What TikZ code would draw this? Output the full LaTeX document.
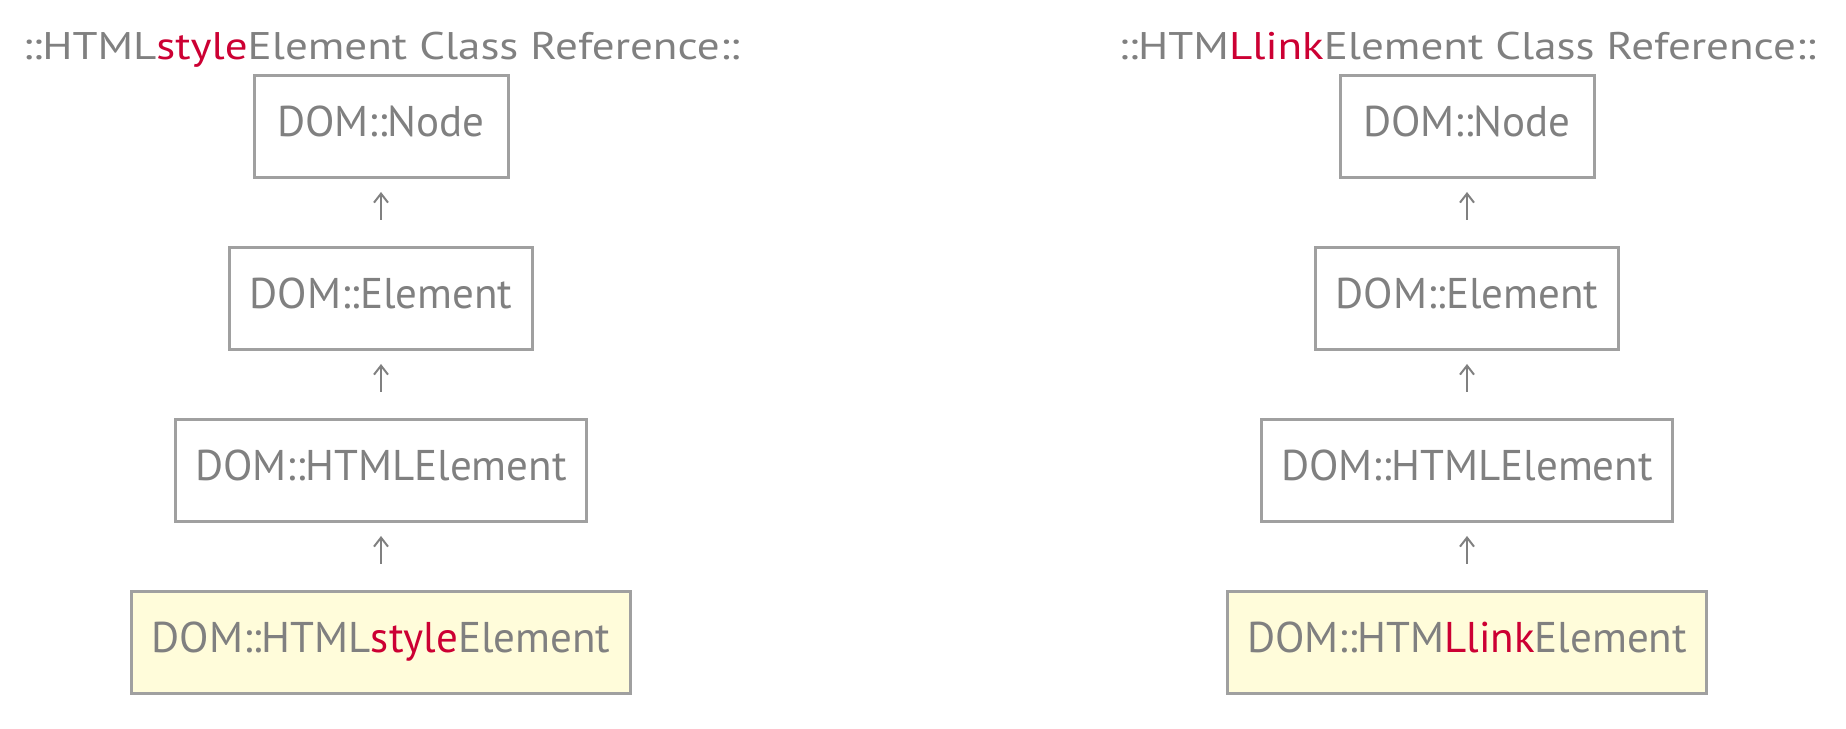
\documentclass[tikz,border=0pt]{standalone}
\usepackage{fontspec}
\setmainfont{PT Sans}
\newfontfamily\ttlfont{PT Sans}[FakeStretch=1.17]
\usetikzlibrary{arrows.meta}
\definecolor{txtgray}{RGB}{128,128,128}
\definecolor{boxgray}{RGB}{160,160,160}
\definecolor{hilite}{RGB}{255,252,218}
\definecolor{classred}{RGB}{204,0,51}

\tikzset{
	cls/.style={draw=boxgray, line width=3pt, text=txtgray, minimum height=102pt,
		inner xsep=20pt, font=\fontsize{43}{50}\selectfont,
		text height=31pt, text depth=11pt},
	cur/.style={cls, fill=hilite},
	inh/.style={-{Straight Barb[length=9pt,width=14pt]}, txtgray, line width=2pt,
		shorten >=13pt, shorten <=26pt},
	ttl/.style={text=txtgray, anchor=base, font=\ttlfont\fontsize{38.5}{44}\selectfont},
}

\begin{document}
\begin{tikzpicture}[x=1pt,y=1pt]
	\useasboundingbox (0,0) rectangle (1846,728);
	
	\foreach \cx/\pre/\hl/\id in {381/HTML/style/a,1467/HTM/Llink/b}{
		\node[ttl] (title-\id) at (\cx,668.7)
			{::\pre\textcolor{classred}{\hl}Element Class Reference::};
		\node[cls,minimum width=254pt] (node-\id) at (\cx,601.5) {DOM::Node};
		\node[cls] (elem-\id) at (\cx,429.5) {DOM::Element};
		\node[cls] (html-\id) at (\cx,257.5) {DOM::HTMLElement};
		\node[cur] (this-\id) at (\cx,85.5)
			{DOM::\pre\textcolor{classred}{\hl}Element};
		
		\draw[inh] (elem-\id) -- (node-\id);
		\draw[inh] (html-\id) -- (elem-\id);
		\draw[inh] (this-\id) -- (html-\id);
	}
\end{tikzpicture}
\end{document}
